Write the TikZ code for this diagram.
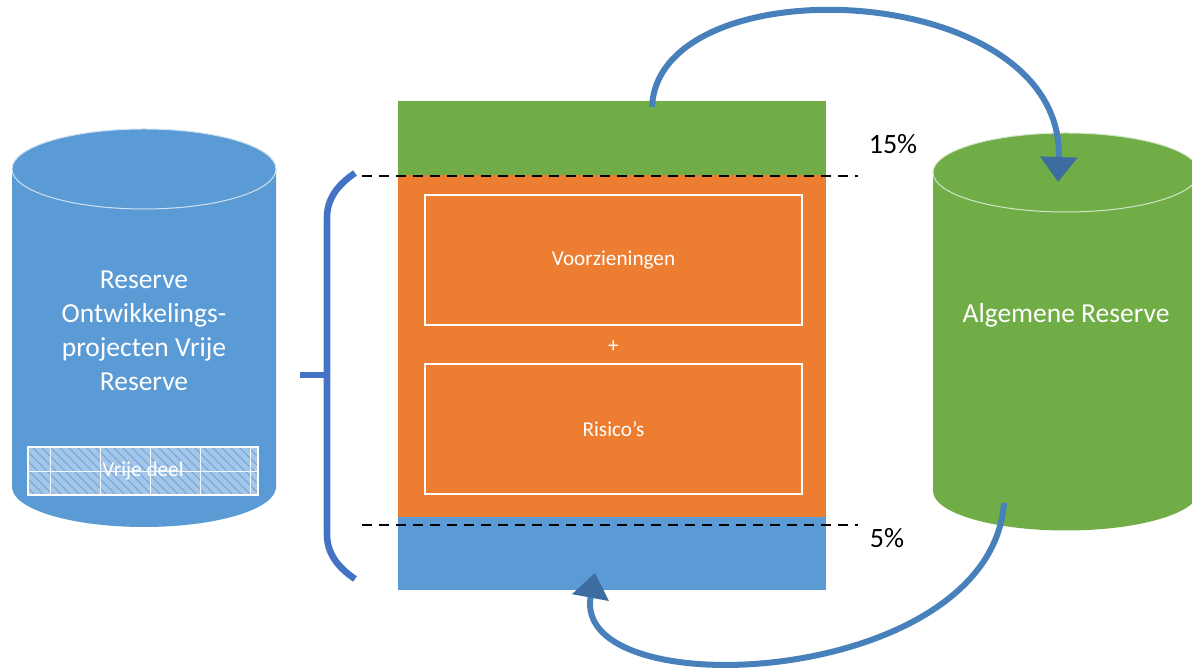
\documentclass[tikz,border=0pt]{standalone}
\usepackage{fontspec}
\setmainfont{Carlito}
\usetikzlibrary{arrows.meta}

\definecolor{cylblue}{HTML}{5B9BD5}
\definecolor{cylgreen}{HTML}{70AD47}
\definecolor{barorange}{HTML}{ED7D31}
\definecolor{braceblue}{HTML}{4472C4}
\definecolor{arrowblue}{RGB}{72,128,188}
\definecolor{arrowdark}{RGB}{60,108,160}
\definecolor{hatchfill}{HTML}{A4C6E8}
\definecolor{hatchline}{HTML}{6FA3D8}

\begin{document}
\begin{tikzpicture}[x=0.5pt,y=0.5pt,
    biglabel/.style={text=white,align=center,font=\fontsize{13.75}{17}\selectfont},
    boxlabel/.style={text=white,font=\fontsize{10.6}{13}\selectfont},
    percent/.style={text=black,font=\fontsize{14}{17}\selectfont},
    whitebox/.style={draw=white,line width=1.2pt,inner sep=0pt,minimum width=188.5pt,minimum height=65pt},
    cutline/.style={dash pattern=on 5pt off 3.5pt,line width=0.7pt},
    flowarrow/.style={draw=arrowblue,line width=3pt,-{Triangle[width=18pt,length=12.5pt,color=arrowdark]}}]

    \useasboundingbox (0,0) rectangle (1192,668);

    % Left cylinder
    \fill[cylblue] (12,499) -- (12,181) arc[start angle=180,end angle=360,x radius=132,y radius=40] -- (276,499) -- cycle;
    \draw[fill=cylblue,draw=white!70!cylblue,line width=0.5pt] (144,499) ellipse[x radius=132,y radius=40];
    \node[biglabel] (reserve) at (144,337) {Reserve\\Ontwikkelings-\\projecten Vrije\\Reserve};

    % Hatched part
    \fill[hatchfill] (28,173) rectangle (258,221);
    \begin{scope}
        \clip (28,173) rectangle (258,221);
        \foreach \d in {-40,-31,...,260}
            \draw[hatchline,line width=0.5pt] (\d,221) -- ++(48,-48);
        \foreach \gx in {50,100,...,250}
            \draw[white!85!hatchfill,line width=0.5pt] (\gx,173) -- (\gx,221);
        \draw[white!85!hatchfill,line width=0.5pt] (28,196) -- (258,196);
    \end{scope}
    \draw[white,line width=1.2pt] (28,173) rectangle (258,221);
    \node[boxlabel] (vrij) at (143,197) {Vrije deel};

    % Stacked bar
    \fill[cylgreen] (398,493) rectangle (826,567);
    \fill[barorange] (398,151) rectangle (826,493);
    \fill[cylblue] (398,78) rectangle (826,151);

    \node[whitebox,boxlabel] (voorz) at (613.5,408) {Voorzieningen};
    \node[boxlabel] (plus) at (613.5,321) {+};
    \node[whitebox,boxlabel] (risico) at (613.5,239) {Risico’s};

    % Dashed limits
    \draw[cutline] (362,492) -- (858,492);
    \draw[cutline] (362,143) -- (858,143);
    \node[percent] (p15) at (893,524) {15\%};
    \node[percent] (p5) at (887,130) {5\%};

    % Brace
    \draw[braceblue,line width=3.3pt] (355,495) .. controls (336,482) and (327,468) .. (327,450)
        -- (327,134) .. controls (327,116) and (336,102) .. (355,89);
    \draw[braceblue,line width=3.3pt] (300,293) -- (327,293);

    % Right cylinder
    \fill[cylgreen] (933,495.5) -- (933,177) arc[start angle=180,end angle=360,x radius=133,y radius=39.5] -- (1199,495.5) -- cycle;
    \draw[fill=cylgreen,draw=white!70!cylgreen,line width=0.5pt] (1066,495.5) ellipse[x radius=133,y radius=39.5];
    \node[biglabel] (algemeen) at (1066,353) {Algemene Reserve};

    % Arrows
    \coordinate (tailtop) at (652,561);
    \coordinate (tiptop) at (1058,486);
    \coordinate (tailbottom) at (1004,165);
    \coordinate (tipbottom) at (595,95);
    \draw[flowarrow] (tailtop) .. controls (658,705) and (1065,690) .. (tiptop);
    \draw[flowarrow] (tailbottom) .. controls (990,-20) and (570,-40) .. (tipbottom);
\end{tikzpicture}
\end{document}
